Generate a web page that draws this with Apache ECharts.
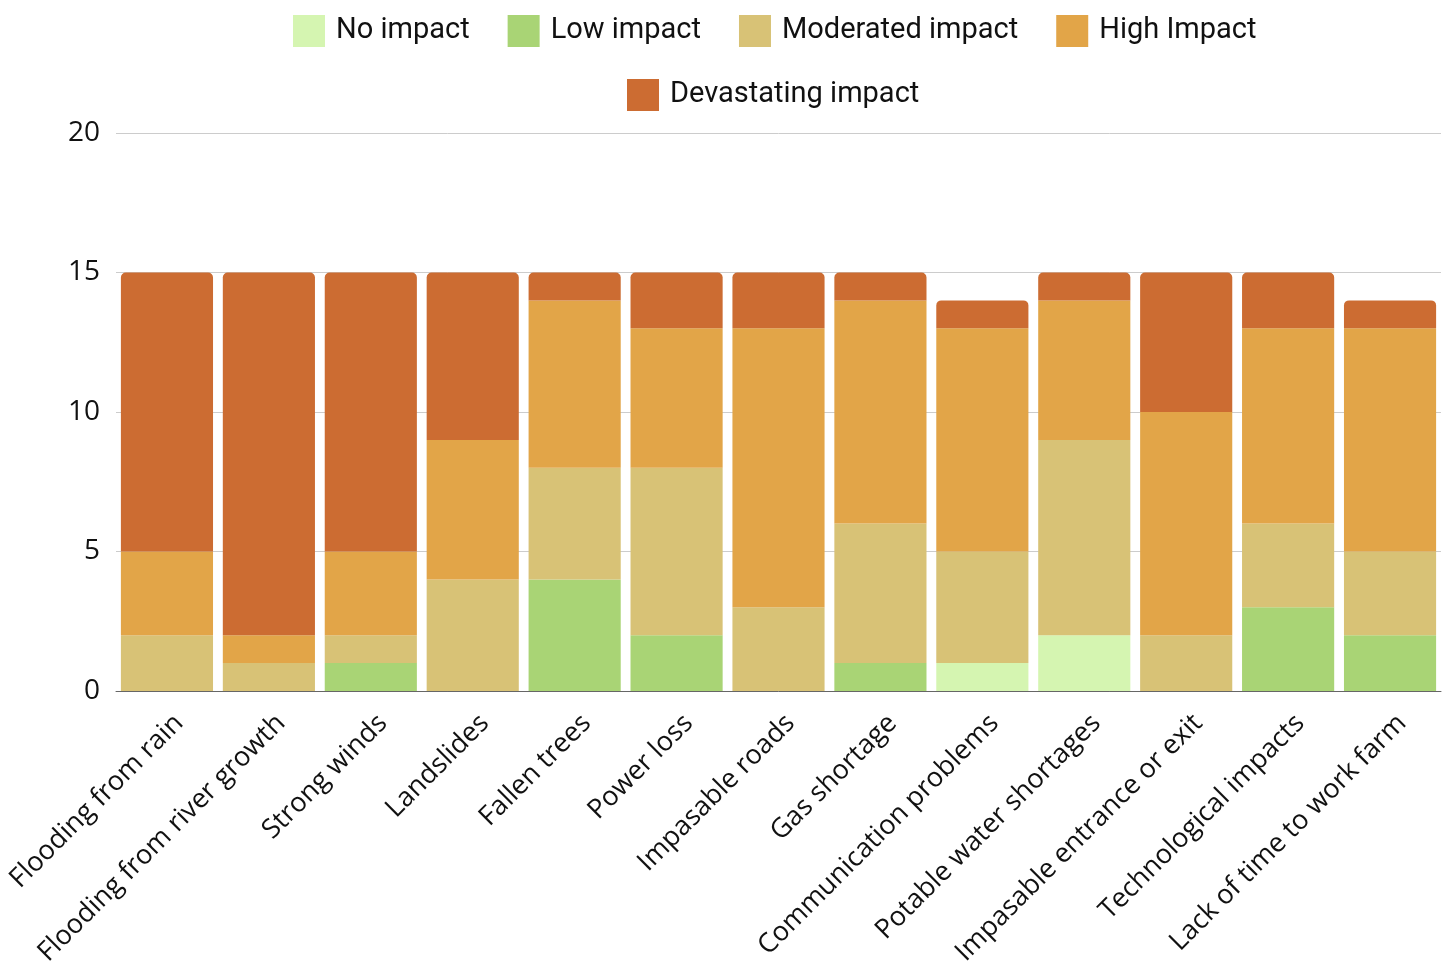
<!DOCTYPE html>
<html>
<head>
<meta charset="utf-8">
<script src="https://cdn.jsdelivr.net/npm/echarts@6/dist/echarts.min.js"></script>
<style>
  html, body { margin: 0; padding: 0; background: #ffffff; }
  #chart { width: 1449px; height: 977px; }
</style>
</head>
<body>
<div id="chart"></div>
<script>
// Impact categories and how many responses fell in each impact level
const categories = [
  'Flooding from rain', 'Flooding from river growth', 'Strong winds', 'Landslides',
  'Fallen trees', 'Power loss', 'Impasable roads', 'Gas shortage',
  'Communication problems', 'Potable water shortages', 'Impasable entrance or exit',
  'Technological impacts', 'Lack of time to work farm'
];
const noImpact          = [0, 0, 0, 0, 0, 0, 0, 0, 1, 2, 0, 0, 0];
const lowImpact         = [0, 0, 1, 0, 4, 2, 0, 1, 0, 0, 0, 3, 2];
const moderatedImpact   = [2, 1, 1, 4, 4, 6, 3, 5, 4, 7, 2, 3, 3];
const highImpact        = [3, 1, 3, 5, 6, 5, 10, 8, 8, 5, 8, 7, 8];
const devastatingImpact = [10, 13, 10, 6, 1, 2, 2, 1, 1, 1, 5, 2, 1];
const yTicks = [0, 5, 10, 15, 20];

const seriesDefs = [
  { name: 'No impact',          data: noImpact,          color: '#d5f5b1' },
  { name: 'Low impact',         data: lowImpact,         color: '#a9d475' },
  { name: 'Moderated impact',   data: moderatedImpact,   color: '#d8c276' },
  { name: 'High Impact',        data: highImpact,        color: '#e2a548' },
  { name: 'Devastating impact', data: devastatingImpact, color: '#cc6c32' }
];

const legendBase = {
  itemWidth: 32,
  itemHeight: 32,
  itemGap: 38,
  icon: 'rect',
  padding: 0,
  textStyle: { fontFamily: 'Roboto', fontSize: 29, color: '#111111', padding: [0, 0, 0, 6] }
};

const chart = echarts.init(document.getElementById('chart'), null, { renderer: 'canvas' });

chart.setOption({
  animation: false,
  backgroundColor: '#ffffff',
  // two legend rows, centred over the plot area
  legend: [
    Object.assign({ top: 15, left: 293, data: seriesDefs.slice(0, 4).map(s => s.name) }, legendBase),
    Object.assign({ top: 79, left: 627, data: seriesDefs.slice(4).map(s => s.name) }, legendBase)
  ],
  grid: { left: 116, right: 8, top: 133, bottom: 286, containLabel: false, outerBoundsMode: 'none' },
  xAxis: {
    type: 'category',
    data: categories,
    axisTick: { show: false },
    axisLine: { show: true, lineStyle: { color: '#666666', width: 1 } },
    axisLabel: {
      rotate: 45,
      interval: 0,
      margin: 40,
      padding: [0, -17, 0, 0],
      fontFamily: 'Open Sans',
      fontSize: 27,
      color: '#111111'
    }
  },
  yAxis: {
    type: 'value',
    min: yTicks[0],
    max: yTicks[yTicks.length - 1],
    interval: yTicks[1] - yTicks[0],
    axisLine: { show: false },
    axisTick: { show: false },
    splitLine: { lineStyle: { color: '#cccccc', width: 1 } },
    axisLabel: {
      margin: 16,
      fontFamily: 'Open Sans',
      fontSize: 28,
      color: '#111111'
    }
  },
  series: seriesDefs.map((s, i) => ({
    name: s.name,
    type: 'bar',
    stack: 'impact',
    data: s.data,
    barCategoryGap: '9.6%',
    itemStyle: {
      color: s.color,
      borderRadius: i === seriesDefs.length - 1 ? [5, 5, 0, 0] : 0
    }
  }))
});
</script>
</body>
</html>
